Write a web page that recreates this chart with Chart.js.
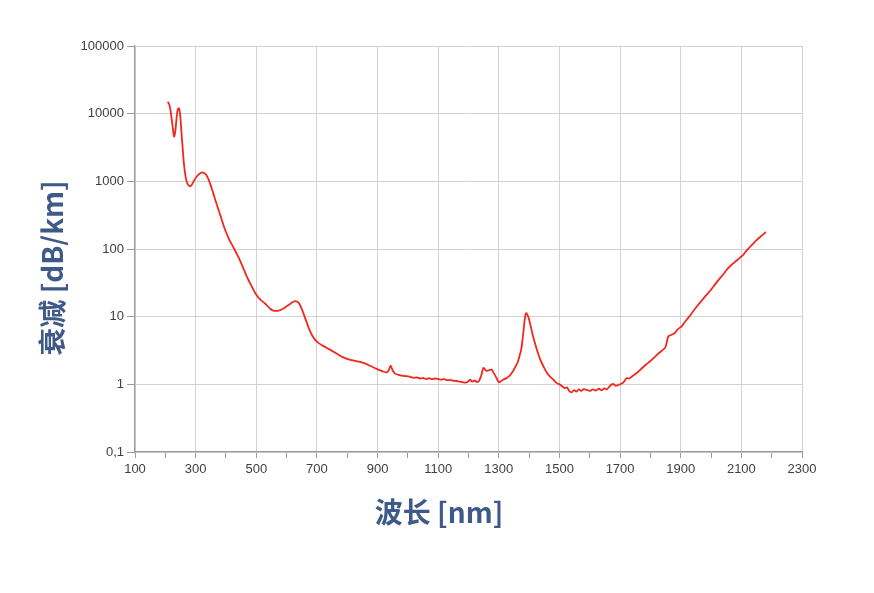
<!DOCTYPE html>
<html>
<head>
<meta charset="utf-8">
<script src="https://cdn.jsdelivr.net/npm/chart.js@4.4.1/dist/chart.umd.min.js"></script>
<style>
  html, body { margin:0; padding:0; background:#fff; }
  #wrap { width:874px; height:593px; position:relative; }
</style>
</head>
<body>
<div id="wrap"><canvas id="c" width="874" height="593"></canvas></div>
<script>
'use strict';

// wavelength [nm]
const wavelength = [
  208,212,216,220,224,229,233,237,241,245,249,253,257,261,265,270,276,281,288,296,
  305,315,325,335,345,358,370,383,395,410,425,440,455,470,485,500,515,530,545,556,
  570,585,600,615,628,640,650,661,672,683,695,705,720,743,765,787,810,830,853,875,
  897,915,930,937,943,950,958,970,985,1002,1010,1020,1030,1040,1050,1060,1070,1080,1090,1100,
  1110,1120,1130,1140,1150,1160,1170,1180,1190,1198,1205,1212,1220,1228,1235,1242,1249,1255,1260,1268,
  1276,1284,1292,1300,1308,1316,1326,1336,1346,1354,1362,1368,1374,1378,1382,1386,1390,1395,1400,1406,
  1412,1419,1428,1437,1447,1458,1469,1480,1490,1502,1510,1518,1525,1532,1540,1548,1556,1564,1572,1580,
  1590,1600,1610,1620,1630,1640,1648,1656,1664,1670,1678,1686,1694,1700,1711,1718,1722,1730,1740,1755,
  1770,1785,1799,1815,1830,1848,1853,1859,1870,1881,1890,1903,1915,1928,1941,1955,1970,1985,2000,2012,
  2025,2040,2051,2065,2080,2095,2106,2120,2135,2150,2165,2181
];
// attenuation [dB/km]
const attenuation = [
  15000,14000,12000,9000,6500,4600,5500,8500,11500,12000,9500,5500,3200,1900,1320,1000,880,840,900,1050,
  1200,1320,1350,1250,1000,670,450,300,204,140,105,78,55,38,28,21,17.5,15.5,13.2,12.3,
  12.2,12.9,14.2,15.8,17.0,16.0,13.0,9.6,7.0,5.4,4.5,4.1,3.7,3.26,2.85,2.5,2.3,2.2,2.07,1.88,
  1.69,1.57,1.50,1.62,1.89,1.6,1.44,1.38,1.33,1.31,1.28,1.25,1.27,1.22,1.24,1.20,1.23,1.19,1.22,1.20,
  1.17,1.19,1.15,1.16,1.13,1.12,1.10,1.08,1.06,1.09,1.17,1.10,1.14,1.08,1.13,1.35,1.75,1.65,1.58,1.62,
  1.65,1.45,1.25,1.07,1.12,1.18,1.24,1.35,1.55,1.8,2.1,2.6,3.3,4.5,6.5,9.5,11.3,10.5,9.0,7.0,
  5.3,4.1,3.0,2.3,1.85,1.5,1.3,1.17,1.05,0.99,0.93,0.88,0.9,0.8,0.76,0.82,0.78,0.84,0.8,0.85,
  0.83,0.80,0.84,0.81,0.86,0.82,0.87,0.84,0.92,0.98,1.01,0.95,0.98,1.0,1.07,1.18,1.24,1.22,1.32,1.47,
  1.7,1.95,2.19,2.55,2.95,3.45,4.0,5.1,5.4,5.75,6.5,7.2,8.5,10.0,12.0,14.5,17.5,21,25,29.5,
  35,42,49,57,65,74,82,98,115,135,155,178
];

const xTickLabels = ['100','300','500','700','900','1100','1300','1500','1700','1900','2100','2300'];
const yTickValues = [0.1, 1, 10, 100, 1000, 10000, 100000];
const yTickLabels = ['0,1','1','10','100','1000','10000','100000'];

const xTitle = '波长 [nm]';
const yTitle = '衰减 [dB/km]';

const TITLE_COLOR = '#3f5a88';
const GRID = '#d2d2d2';
const AXIS = '#9a9a9a';

const isMajorX = v => xTickLabels.indexOf(String(v)) >= 0;

const titlePlugin = {
  id: 'titles',
  afterDraw(chart) {
    const ctx = chart.ctx;
    ctx.save();
    ctx.fillStyle = TITLE_COLOR;
    ctx.font = 'bold 28px "Noto Sans CJK SC", "Noto Sans", sans-serif';
    ctx.textAlign = 'center';
    ctx.textBaseline = 'middle';
    ctx.fillText(xTitle, 439, 512);
    ctx.translate(52, 268);
    ctx.rotate(-Math.PI / 2);
    ctx.fillText(yTitle, 0, 0);
    ctx.restore();
  }
};

new Chart(document.getElementById('c'), {
  type: 'line',
  data: {
    datasets: [{
      data: wavelength.map((w, i) => ({ x: w, y: attenuation[i] })),
      borderColor: '#f0281e',
      borderWidth: 1.8,
      pointRadius: 0,
      tension: 0.3,
      fill: false
    }]
  },
  options: {
    responsive: false,
    animation: false,
    layout: { padding: { left: 0, top: 46, right: 72, bottom: 0 } },
    plugins: { legend: { display: false }, tooltip: { enabled: false } },
    scales: {
      x: {
        type: 'linear',
        min: 100, max: 2300,
        afterFit: s => { s.height = 141; },
        ticks: {
          stepSize: 100, autoSkip: false, maxRotation: 0, padding: 4,
          color: '#404040',
          font: { family: '"Liberation Sans", Arial, sans-serif', size: 13 },
          callback: v => isMajorX(v) ? String(v) : ''
        },
        grid: {
          color: c => isMajorX(c.tick && c.tick.value) ? GRID : 'rgba(0,0,0,0)',
          tickColor: AXIS,
          tickLength: 6
        },
        border: { color: AXIS, width: 1.2 }
      },
      y: {
        type: 'logarithmic',
        min: 0.1, max: 100000,
        afterFit: s => { s.width = 135; },
        afterBuildTicks: s => { s.ticks = yTickValues.map(v => ({ value: v })); },
        ticks: {
          padding: 3,
          color: '#404040',
          font: { family: '"Liberation Sans", Arial, sans-serif', size: 13 },
          callback: v => {
            const i = yTickValues.indexOf(v);
            return i >= 0 ? yTickLabels[i] : '';
          }
        },
        grid: { color: GRID, tickColor: AXIS, tickLength: 8 },
        border: { color: AXIS, width: 1.2 }
      }
    }
  },
  plugins: [titlePlugin]
});
</script>
</body>
</html>
